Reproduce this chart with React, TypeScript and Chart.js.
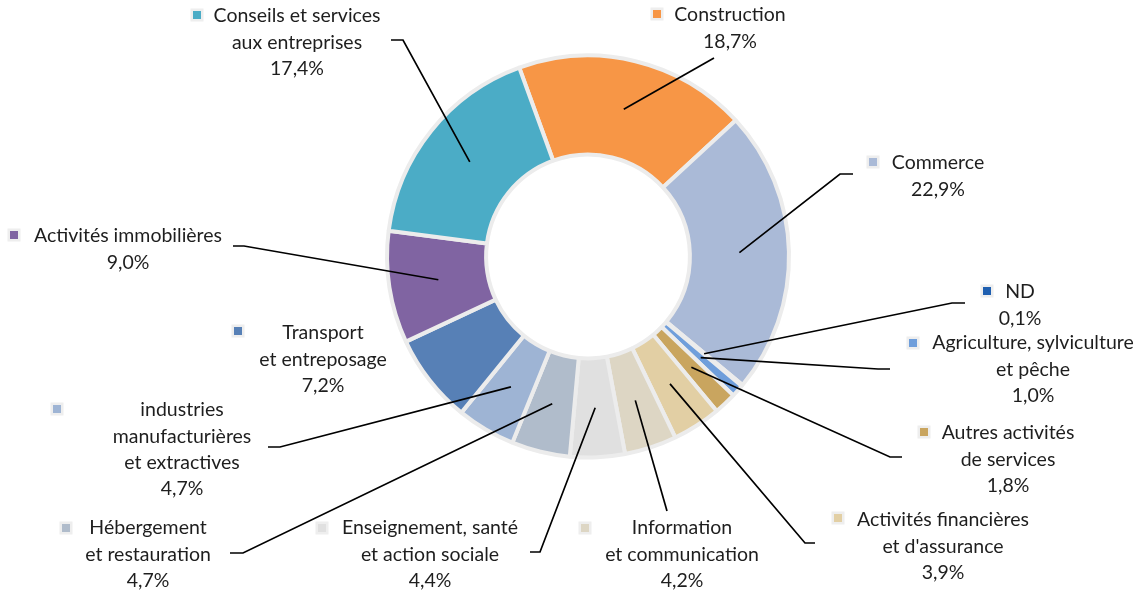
import React, { useEffect, useRef } from "react";
import { Chart, registerables } from "chart.js";

Chart.register(...registerables);

// ---- Data (clockwise from Construction) ----
const categories: string[][] = [
  ["Construction"],
  ["Commerce"],
  ["ND"],
  ["Agriculture, sylviculture", "et pêche"],
  ["Autres activités", "de services"],
  ["Activités financières", "et d'assurance"],
  ["Information", "et communication"],
  ["Enseignement, santé", "et action sociale"],
  ["Hébergement", "et restauration"],
  ["industries", "manufacturières", "et extractives"],
  ["Transport", "et entreposage"],
  ["Activités immobilières"],
  ["Conseils et services", "aux entreprises"],
];

const shares: number[] = [18.7, 22.9, 0.1, 1.0, 1.8, 3.9, 4.2, 4.4, 4.7, 4.7, 7.2, 9.0, 17.4];

const sliceColors: string[] = [
  "#F79646",
  "#AABAD7",
  "#1F5FB0",
  "#6F9EDB",
  "#C9A55F",
  "#E2CFA4",
  "#DDD6C4",
  "#E0E0E0",
  "#B0BCCB",
  "#9EB4D4",
  "#5780B6",
  "#8064A2",
  "#4BACC6",
];

// ---- Layout of the outside labels (pixels) ----
type LabelLayout = {
  marker: [number, number];
  cx: number;
  y0: number;
  path?: [number, number][];
};

const labelLayout: LabelLayout[] = [
  { marker: [657, 14], cx: 730, y0: 15, path: [[714, 58]] },
  { marker: [873, 162], cx: 938, y0: 163, path: [[840, 174], [853, 174]] },
  { marker: [987, 291], cx: 1020, y0: 292, path: [[952, 303], [965, 303]] },
  { marker: [913, 343], cx: 1033, y0: 343, path: [[878, 369], [890, 369]] },
  { marker: [924, 432], cx: 1008, y0: 433, path: [[890, 457], [902, 457]] },
  { marker: [838, 518], cx: 943, y0: 520, path: [[805, 543], [815, 543]] },
  { marker: [585, 528], cx: 682, y0: 528, path: [[667, 511]] },
  { marker: [322, 528], cx: 430, y0: 528, path: [[540, 552], [530, 552]] },
  { marker: [66, 528], cx: 148, y0: 528, path: [[243, 553], [230, 553]] },
  { marker: [57, 409], cx: 182, y0: 410, path: [[280, 447], [268, 447]] },
  { marker: [238, 331], cx: 323, y0: 333 },
  { marker: [14, 235], cx: 128, y0: 236, path: [[244, 246], [233, 246]] },
  { marker: [197, 15], cx: 297, y0: 16, path: [[403, 40], [391, 40]] },
];

const FONT = "19.5px Lato, 'Open Sans', sans-serif";
const LINE_H = 26.3;
const TEXT_COLOR = "#1E1E1E";

const fmt = (v: number) => v.toFixed(1).replace(".", ",") + "%";

const labelPlugin = {
  id: "outsideLabels",
  afterDatasetsDraw(chart: any) {
    const ctx = chart.ctx as CanvasRenderingContext2D;
    const meta = chart.getDatasetMeta(0);
    ctx.save();
    // leader lines
    ctx.strokeStyle = "#000000";
    ctx.lineWidth = 1.7;
    ctx.lineJoin = "miter";
    meta.data.forEach((arc: any, i: number) => {
      const lay = labelLayout[i];
      if (!lay || !lay.path) return;
      const p = arc.getCenterPoint();
      ctx.beginPath();
      ctx.moveTo(p.x, p.y);
      lay.path.forEach(([x, y]) => ctx.lineTo(x, y));
      ctx.stroke();
    });
    // labels
    ctx.font = FONT;
    ctx.textAlign = "center";
    ctx.textBaseline = "middle";
    categories.forEach((lines, i) => {
      const lay = labelLayout[i];
      const all = [...lines, fmt(shares[i])];
      ctx.fillStyle = TEXT_COLOR;
      all.forEach((t, k) => ctx.fillText(t, lay.cx, lay.y0 + k * LINE_H));
      const [mx, my] = lay.marker;
      ctx.fillStyle = "#EEEEEE";
      ctx.fillRect(mx - 6.5, my - 6.5, 13, 13);
      ctx.fillStyle = sliceColors[i];
      ctx.fillRect(mx - 4, my - 4, 8, 8);
    });
    ctx.restore();
  },
};

export default function App() {
  const ref = useRef<HTMLCanvasElement | null>(null);
  useEffect(() => {
    if (!ref.current) return;
    const chart = new Chart(ref.current, {
      type: "doughnut",
      data: {
        labels: categories.map((l) => l.join(" ")),
        datasets: [
          {
            data: shares,
            backgroundColor: sliceColors,
            borderColor: "#ECECEC",
            borderWidth: 4,
          },
        ],
      },
      options: {
        responsive: false,
        animation: false,
        rotation: -20,
        radius: 201,
        cutout: "50.7%",
        layout: { padding: { left: 34, right: 0, top: 0, bottom: 78 } },
        plugins: {
          legend: { display: false },
          tooltip: { enabled: false },
        },
      } as any,
      plugins: [labelPlugin],
    });
    return () => chart.destroy();
  }, []);
  return (
    <div style={{ position: "fixed", left: 0, top: 0, width: 1142, height: 591, background: "#fff" }}>
      <canvas ref={ref} width={1142} height={591} style={{ width: 1142, height: 591 }} />
    </div>
  );
}
